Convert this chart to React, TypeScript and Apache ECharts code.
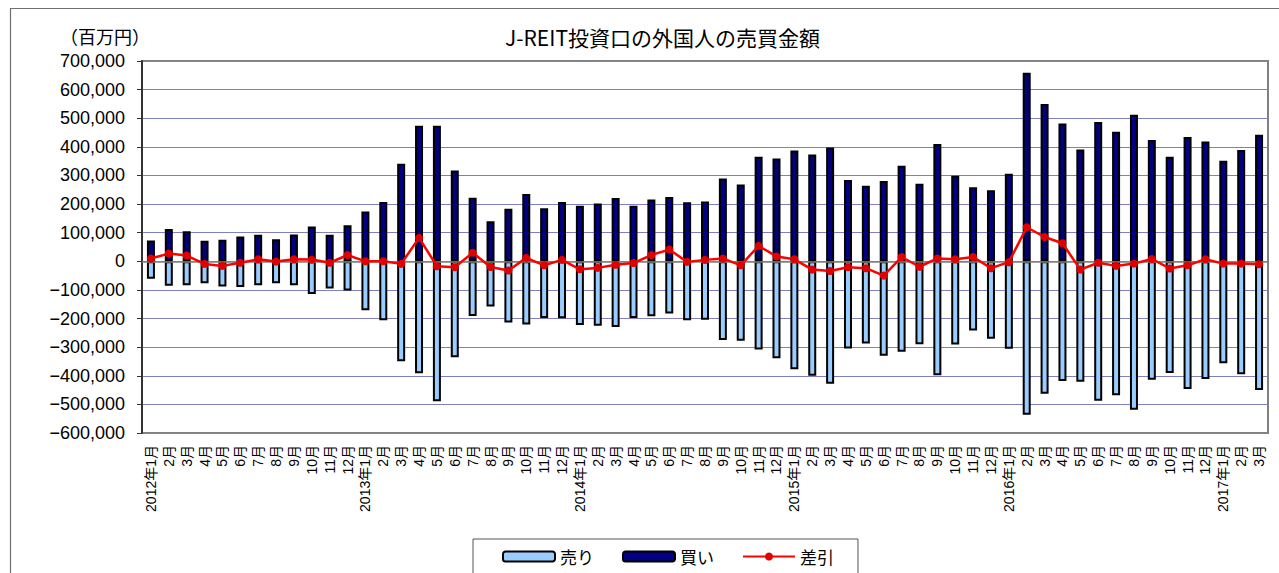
import React, { useEffect, useRef } from "react";
import * as echarts from "echarts";

const categories = [
  "2012年1月", "2月", "3月", "4月", "5月", "6月", "7月", "8月", "9月", "10月", "11月", "12月",
  "2013年1月", "2月", "3月", "4月", "5月", "6月", "7月", "8月", "9月", "10月", "11月", "12月",
  "2014年1月", "2月", "3月", "4月", "5月", "6月", "7月", "8月", "9月", "10月", "11月", "12月",
  "2015年1月", "2月", "3月", "4月", "5月", "6月", "7月", "8月", "9月", "10月", "11月", "12月",
  "2016年1月", "2月", "3月", "4月", "5月", "6月", "7月", "8月", "9月", "10月", "11月", "12月",
  "2017年1月", "2月", "3月",
];

const sell = [
  -61000, -85000, -84000, -77000, -88000, -90000, -84000, -77000, -84000, -114000, -95000, -102000,
  -171000, -206000, -349000, -391000, -489000, -335000, -191000, -158000, -214000, -221000, -198000, -199000,
  -223000, -225000, -230000, -198000, -192000, -182000, -206000, -204000, -275000, -278000, -308000, -339000,
  -377000, -400000, -428000, -305000, -287000, -330000, -316000, -290000, -398000, -291000, -242000, -271000,
  -306000, -536000, -463000, -418000, -421000, -487000, -468000, -519000, -414000, -390000, -446000, -411000,
  -356000, -395000, -450000,
];

const buy = [
  73000, 113000, 105000, 72000, 75000, 87000, 93000, 77000, 94000, 122000, 93000, 126000,
  174000, 207000, 341000, 474000, 474000, 317000, 222000, 140000, 184000, 235000, 185000, 207000,
  194000, 202000, 221000, 194000, 216000, 225000, 206000, 209000, 289000, 268000, 365000, 359000,
  387000, 373000, 398000, 284000, 264000, 281000, 334000, 271000, 410000, 299000, 259000, 248000,
  306000, 659000, 550000, 482000, 391000, 487000, 453000, 512000, 424000, 365000, 434000, 419000,
  351000, 389000, 442000,
];

const diff = [
  10000, 27000, 20000, -9000, -16000, -5000, 7000, -1000, 7000, 6000, -5000, 22000,
  0, 0, -9000, 82000, -17000, -21000, 30000, -20000, -32000, 12000, -14000, 5000,
  -28000, -23000, -12000, -6000, 22000, 41000, -2000, 5000, 10000, -14000, 54000, 17000,
  7000, -29000, -34000, -21000, -24000, -50000, 15000, -19000, 10000, 7000, 15000, -24000,
  -3000, 119000, 85000, 63000, -29000, -5000, -16000, -8000, 8000, -25000, -14000, 7000,
  -8000, -8000, -10000,
];

const FONT = "'Liberation Sans', 'Noto Sans CJK JP', sans-serif";
const CJK = "'Noto Sans CJK JP', 'Liberation Sans', sans-serif";

function fmt(v: number): string {
  const s = Math.abs(v).toString().replace(/\B(?=(\d{3})+(?!\d))/g, ",");
  return v < 0 ? "\u2212" + s : s;
}

export default function App() {
  const ref = useRef<HTMLDivElement>(null);
  useEffect(() => {
    if (!ref.current) return;
    const chart = echarts.init(ref.current, null, { renderer: "svg" });
    chart.setOption({
      animation: false,
      backgroundColor: "#ffffff",
      title: {
        text: "J-REIT投資口の外国人の売買金額",
        left: 505,
        top: 26,
        padding: 0,
        textStyle: { fontFamily: CJK, fontSize: 21, fontWeight: "normal", color: "#000" },
      },
      graphic: [
        {
          type: "rect",
          shape: { x: 10.5, y: 8.5, width: 1400, height: 700 },
          style: { fill: "none", stroke: "#707070", lineWidth: 1.2 },
          silent: true,
        },
        {
          type: "text",
          x: 60,
          y: 36,
          style: {
            text: "（百万円）",
            fontFamily: CJK,
            fontSize: 18,
            fill: "#000",
            textVerticalAlign: "middle",
          },
        },
      ],
      legend: {
        left: 473,
        top: 539,
        padding: [9, 24, 40, 29],
        itemGap: 28,
        itemWidth: 52,
        itemHeight: 10,
        borderColor: "#555",
        borderWidth: 1,
        backgroundColor: "#fff",
        textStyle: { fontFamily: CJK, fontSize: 17, color: "#000", padding: [0, 0, 0, 0] },
        data: ["売り", "買い", "差引"],
      },
      grid: {
        left: 142,
        right: 11,
        top: 61,
        bottom: 140,
        show: true,
        borderColor: "#808080",
        borderWidth: 2,
      },
      xAxis: {
        type: "category",
        data: categories,
        axisLine: { show: false },
        axisTick: { show: false },
        axisLabel: {
          interval: 0,
          rotate: 90,
          margin: 12,
          fontFamily: FONT,
          fontSize: 14,
          color: "#000",
        },
      },
      yAxis: {
        type: "value",
        min: -600000,
        max: 700000,
        interval: 100000,
        axisLine: { show: true, lineStyle: { color: "#333", width: 2 } },
        axisTick: { show: true, length: 5, lineStyle: { color: "#333", width: 1 } },
        axisLabel: {
          margin: 17,
          fontFamily: FONT,
          fontSize: 18,
          color: "#000",
          formatter: (v: number) => fmt(v),
        },
        splitLine: { show: true, lineStyle: { color: "#8080c0", width: 1 } },
      },
      series: [
        {
          name: "売り",
          type: "bar",
          stack: "t",
          data: sell,
          barWidth: 8,
          itemStyle: { color: "#99ccff", borderColor: "#000", borderWidth: 2 },
          markLine: {
            silent: true,
            symbol: "none",
            label: { show: false },
            lineStyle: { color: "#808080", width: 1.5, type: "solid" },
            data: [{ yAxis: 0 }],
          },
        },
        {
          name: "買い",
          type: "bar",
          stack: "t",
          data: buy,
          barWidth: 8,
          itemStyle: { color: "#000080", borderColor: "#000", borderWidth: 2 },
        },
        {
          name: "差引",
          type: "line",
          data: diff,
          symbol: "circle",
          symbolSize: 8,
          z: 5,
          lineStyle: { color: "#ff0000", width: 2.5 },
          itemStyle: { color: "#e00000" },
        },
      ],
    });
    return () => chart.dispose();
  }, []);
  return (
    <div
      ref={ref}
      style={{ position: "fixed", left: 0, top: 0, width: 1279, height: 573 }}
    />
  );
}
